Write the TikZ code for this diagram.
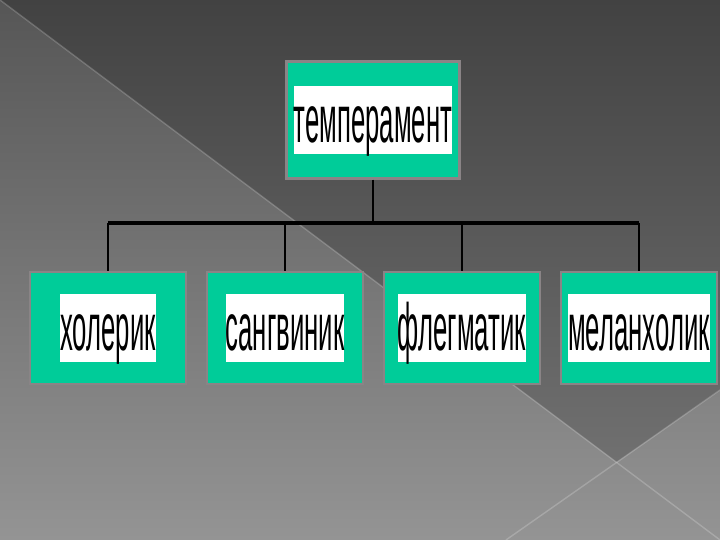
\documentclass[tikz,border=0pt]{standalone}
\usepackage{fontspec}
\setmainfont{Liberation Sans}
\usetikzlibrary{positioning}

\definecolor{boxgreen}{RGB}{0,204,153}
\definecolor{boxedge}{RGB}{138,132,134}
\definecolor{bglighttop}{RGB}{86,86,86}
\definecolor{bglightbot}{RGB}{148,148,148}
\definecolor{bgdarktop}{RGB}{66,66,66}
\definecolor{bgdarkbot}{RGB}{112,112,112}

\newcommand{\boxword}[1]{\scalebox{.385}[1]{#1}}

\tikzset{
    kind/.style = {draw = boxedge, line width = .7pt, fill = boxgreen, inner sep = 0},
    tag/.style  = {fill = white, inner xsep = 0, inner ysep = 0, text height = 5.7mm, text depth = 1.1mm, font = \fontsize{19}{20}\selectfont},
    stem/.style = {black, line width = .6pt},
    rail/.style = {black, line width = 1.1pt},
}

\begin{document}
\begin{tikzpicture}[x = .1mm, y = -.1mm]

    \def\toprow {120}
    \def\botrow {328}
    \def\busline {223}
    \def\boxstep {177}

    \useasboundingbox (0, 0) rectangle (720, 540);

    % fundo
    \shade [top color = bglighttop, bottom color = bglightbot] (0, 0) rectangle (720, 540);
    \shade [top color = bgdarktop, bottom color = bgdarkbot] (0, 0) -- (720, 0) -- (720, 390) -- (616.6, 462) -- cycle;
    \draw [white, opacity = .2, line width = .4pt] (0, 0) -- (720, 540);
    \draw [white, opacity = .2, line width = .4pt] (720, 390) -- (506, 540);

    % topo
    \node [kind, minimum width = 17.3mm, minimum height = 11.7mm] (temp) at (373, \toprow) {};
    \node [tag] (temp-t) at (temp) {\boxword{темперамент}};

    \coordinate (bus) at (373, \busline);
    \draw [stem] (temp) -- (bus);

    % tipos
    \foreach \name/\word [count = \i] in {chol/холерик, sang/сангвиник, phleg/флегматик, melan/меланхолик} {
        \node [kind, minimum width = 15.6mm, minimum height = 11.2mm] (\name) at ({108 + \boxstep * (\i - 1)}, \botrow) {};
        \node [tag] (\name-t) at (\name) {\boxword{\word}};
        \draw [stem] (\name.north |- bus) -- (\name.north);
    }

    \draw [rail] (chol.north |- bus) -- (melan.north |- bus);
\end{tikzpicture}
\end{document}
